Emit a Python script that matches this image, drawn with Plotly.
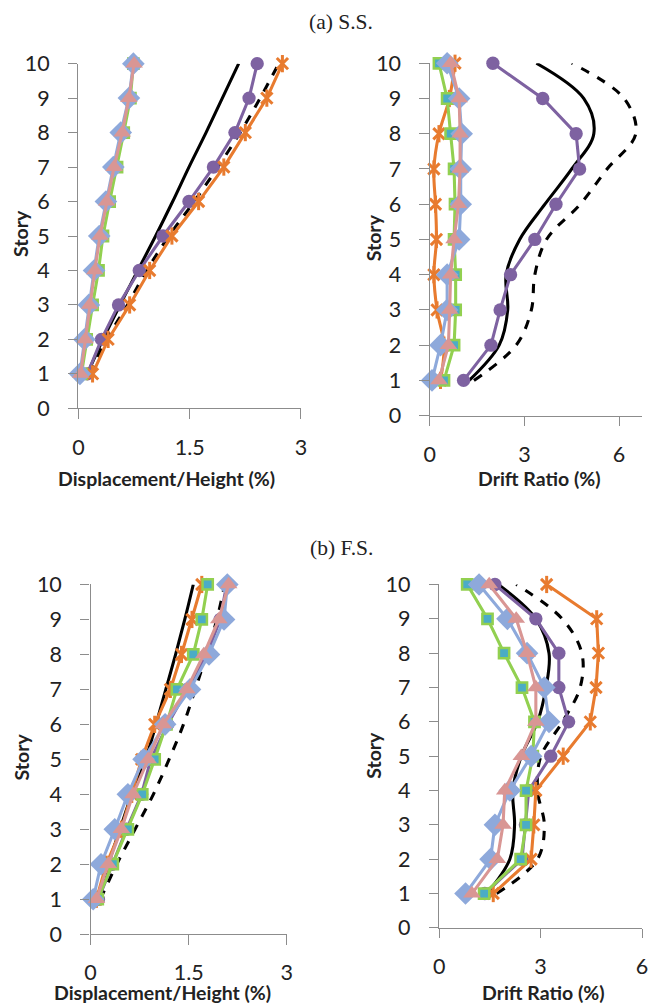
import plotly.graph_objects as go

W, H = 648, 1005
# the photographed page appears scaled by ~0.975 with a small offset;
# reference pixel positions are mapped through this to page pixels
SCALE = 0.975
OFFX, OFFY = 7, 12

stories = [1, 2, 3, 4, 5, 6, 7, 8, 9, 10]
x_ticks_disp = [0, 1.5, 3]
x_tick_text_disp = ["0", "1.5", "3"]
x_ticks_drift = [0, 3, 6]
x_tick_text_drift = ["0", "3", "6"]
y_ticks = [0, 1, 2, 3, 4, 5, 6, 7, 8, 9, 10]

# (a) S.S. - Displacement/Height (%)
ss_disp_solid = [0.12, 0.33, 0.56, 0.80, 1.04, 1.27, 1.49, 1.72, 1.94, 2.16]
ss_disp_dashed = [0.15, 0.38, 0.66, 0.92, 1.22, 1.56, 1.88, 2.18, 2.45, 2.70]
ss_disp_purple = [0.12, 0.31, 0.54, 0.82, 1.14, 1.49, 1.82, 2.11, 2.30, 2.41]
ss_disp_orange = [0.19, 0.40, 0.69, 0.96, 1.26, 1.62, 1.96, 2.25, 2.54, 2.75]
ss_disp_green = [0.04, 0.11, 0.19, 0.27, 0.33, 0.42, 0.52, 0.61, 0.70, 0.74]
ss_disp_blue = [0.02, 0.08, 0.14, 0.21, 0.28, 0.37, 0.47, 0.57, 0.68, 0.74]
ss_disp_pink = [0.03, 0.09, 0.15, 0.22, 0.29, 0.38, 0.48, 0.59, 0.68, 0.75]

# (a) S.S. - Drift Ratio (%)
ss_drift_solid = [1.25, 2.20, 2.47, 2.42, 2.85, 3.65, 4.50, 5.20, 4.88, 3.38]
ss_drift_dashed = [1.40, 2.74, 3.22, 3.33, 3.70, 4.77, 5.62, 6.53, 6.16, 4.50]
ss_drift_purple = [1.07, 1.94, 2.23, 2.56, 3.33, 4.00, 4.75, 4.64, 3.58, 2.00]
ss_drift_orange = [0.34, 0.45, 0.23, 0.13, 0.21, 0.18, 0.13, 0.29, 0.62, 0.80]
ss_drift_green = [0.45, 0.77, 0.82, 0.82, 0.77, 0.80, 0.77, 0.66, 0.55, 0.29]
ss_drift_blue = [0.07, 0.34, 0.55, 0.55, 0.93, 0.98, 0.98, 1.01, 0.93, 0.55]
ss_drift_pink = [0.29, 0.59, 0.63, 0.66, 0.77, 0.91, 0.96, 0.96, 0.93, 0.66]

# (b) F.S. - Displacement/Height (%)
fs_disp_solid = [0.11, 0.27, 0.45, 0.63, 0.84, 1.00, 1.15, 1.30, 1.44, 1.57]
fs_disp_dashed = [0.15, 0.40, 0.68, 0.96, 1.20, 1.42, 1.60, 1.77, 1.93, 2.05]
fs_disp_purple = [0.12, 0.33, 0.55, 0.78, 0.92, 1.18, 1.48, 1.78, 1.98, 2.08]
fs_disp_orange = [0.09, 0.24, 0.47, 0.63, 0.78, 0.98, 1.22, 1.39, 1.55, 1.70]
fs_disp_green = [0.11, 0.34, 0.57, 0.79, 0.98, 1.16, 1.32, 1.57, 1.70, 1.79]
fs_disp_blue = [0.04, 0.16, 0.37, 0.57, 0.81, 1.14, 1.52, 1.81, 2.04, 2.09]
fs_disp_pink = [0.09, 0.27, 0.47, 0.65, 0.88, 1.11, 1.47, 1.73, 1.96, 2.11]

# (b) F.S. - Drift Ratio (%)
fs_drift_solid = [1.41, 2.09, 2.23, 2.18, 2.43, 2.91, 3.16, 3.25, 2.86, 1.75]
fs_drift_dashed = [1.70, 2.91, 3.11, 2.91, 3.01, 3.65, 4.17, 4.22, 3.64, 2.28]
fs_drift_purple = [1.35, 2.45, 2.55, 2.65, 3.30, 3.83, 3.54, 3.54, 2.86, 1.65]
fs_drift_orange = [1.60, 2.72, 2.80, 2.86, 3.67, 4.47, 4.64, 4.71, 4.66, 3.18]
fs_drift_green = [1.33, 2.41, 2.57, 2.57, 2.77, 2.82, 2.45, 1.92, 1.43, 0.83]
fs_drift_blue = [0.78, 1.52, 1.65, 2.09, 2.72, 3.25, 3.11, 2.60, 2.02, 1.18]
fs_drift_pink = [0.97, 1.72, 1.89, 1.94, 2.43, 2.86, 2.86, 2.60, 2.28, 1.48]

C_PURPLE = "#7E62A1"
C_ORANGE = "#E87B2F"
C_GREEN = "#92D050"
C_TEAL = "#4BACC6"
C_BLUE = "#8EA9DB"
C_PINK = "#D99694"
C_AXIS = "#8C8C8C"
C_TEXT = "#222222"

K = 1 / SCALE

fig = go.Figure()


def add_panel(xa, ya, solid, dashed, purple, orange, green, blue, pink, orange_spline=False):
    common = dict(xaxis=xa, yaxis=ya, showlegend=False, cliponaxis=False)
    lw = 3 * K
    fig.add_trace(go.Scatter(x=solid, y=stories, mode="lines", line=dict(color="black", width=lw, shape="spline"), **common))
    fig.add_trace(go.Scatter(x=dashed, y=stories, mode="lines", line=dict(color="black", width=lw, dash="dash", shape="spline"), **common))
    fig.add_trace(go.Scatter(x=purple, y=stories, mode="lines+markers", line=dict(color=C_PURPLE, width=lw),
                             marker=dict(symbol="circle", size=13 * K, color=C_PURPLE), **common))
    fig.add_trace(go.Scatter(x=orange, y=stories, mode="lines+markers",
                             line=dict(color=C_ORANGE, width=lw, shape="spline" if orange_spline else "linear"),
                             marker=dict(symbol="x-thin-open", size=11 * K, color=C_ORANGE, line=dict(color=C_ORANGE, width=3)), **common))
    fig.add_trace(go.Scatter(x=orange, y=stories, mode="markers",
                             marker=dict(symbol="line-ns-open", size=12 * K, color=C_ORANGE, line=dict(color=C_ORANGE, width=3)), **common))
    fig.add_trace(go.Scatter(x=green, y=stories, mode="lines+markers", line=dict(color=C_GREEN, width=lw),
                             marker=dict(symbol="square", size=10 * K, color=C_TEAL, line=dict(color=C_GREEN, width=2.5)), **common))
    fig.add_trace(go.Scatter(x=blue, y=stories, mode="lines+markers", line=dict(color=C_BLUE, width=lw),
                             marker=dict(symbol="diamond", size=17 * K, color=C_BLUE), **common))
    fig.add_trace(go.Scatter(x=pink, y=stories, mode="lines+markers", line=dict(color=C_PINK, width=lw),
                             marker=dict(symbol="triangle-up", size=15 * K, color=C_PINK), **common))


add_panel("x", "y", ss_disp_solid, ss_disp_dashed, ss_disp_purple, ss_disp_orange, ss_disp_green, ss_disp_blue, ss_disp_pink)
add_panel("x2", "y2", ss_drift_solid, ss_drift_dashed, ss_drift_purple, ss_drift_orange, ss_drift_green, ss_drift_blue, ss_drift_pink, orange_spline=True)
add_panel("x3", "y3", fs_disp_solid, fs_disp_dashed, fs_disp_purple, fs_disp_orange, fs_disp_green, fs_disp_blue, fs_disp_pink)
add_panel("x4", "y4", fs_drift_solid, fs_drift_dashed, fs_drift_purple, fs_drift_orange, fs_drift_green, fs_drift_blue, fs_drift_pink)


def page_x(r):
    return (r - OFFX) / SCALE


def page_y(r):
    return (r - OFFY) / SCALE


def px_x(r):
    return min(max(page_x(r) / W, 0), 1)


def px_y(r):
    return min(max(1 - page_y(r) / H, 0), 1)


def unit_span(r0, r1, v0, v1, edge):
    # axis range end so that the axis line reaches the reference pixel `edge`
    per = (page_x(r1) - page_x(r0)) / (v1 - v0)
    end = min(page_x(edge), W)
    return (end - page_x(r0)) / per, end


TICKFONT = dict(family="Lato", size=21 * K, color=C_TEXT)


def xaxis(left, right_px, rng, tv, tt, anchor):
    return dict(domain=[px_x(left), min(right_px / W, 1)], range=rng, tickvals=tv, ticktext=tt, anchor=anchor,
                showline=True, linecolor=C_AXIS, linewidth=1.3, ticks="outside", ticklen=9 * K, tickcolor=C_AXIS,
                tickwidth=1.3, showgrid=False, zeroline=False, tickfont=TICKFONT, ticklabelstandoff=10,
                ticklabeloverflow="allow", fixedrange=True)


def yaxis(top, bottom, anchor):
    return dict(domain=[px_y(bottom), px_y(top)], range=[0, 10], tickvals=y_ticks, anchor=anchor,
                showline=True, linecolor=C_AXIS, linewidth=1.3, ticks="outside", ticklen=9 * K, tickcolor=C_AXIS,
                tickwidth=1.3, showgrid=False, zeroline=False, tickfont=TICKFONT, ticklabelstandoff=14, fixedrange=True)


annotations = []


def label(text, x, y, size, bold=True, angle=0, family="Lato"):
    annotations.append(dict(text=("<b>%s</b>" % text) if bold else text, x=px_x(x), y=px_y(y),
                            xref="paper", yref="paper", showarrow=False, textangle=angle,
                            xanchor="center", yanchor="middle",
                            font=dict(family=family, size=size * K, color=C_TEXT)))


label("(a) S.S.", 340, 21.5, 21, bold=False, family="Liberation Serif")
label("(b) F.S.", 340, 547, 21, bold=False, family="Liberation Serif")
label("Displacement/Height (%)", 166, 478, 19)
label("Drift Ratio (%)", 537, 478, 19)
label("Displacement/Height (%)", 162, 993, 19)
label("Drift Ratio (%)", 541, 993, 19)
label("Story", 22, 233, 19, angle=-90)
label("Story", 372, 237, 19, angle=-90)
label("Story", 22, 757, 19, angle=-90)
label("Story", 372, 755, 19, angle=-90)

# axis extents (reference pixels): left edge, pixel of a known value
r2_end, r2_px = unit_span(428, 616, 0, 6, 647)

fig.update_layout(
    width=W, height=H, margin=dict(l=0, r=0, t=0, b=0),
    paper_bgcolor="white", plot_bgcolor="white",
    xaxis=xaxis(79, page_x(300), [0, 3], x_ticks_disp, x_tick_text_disp, "y"),
    yaxis=yaxis(62.7, 407.7, "x"),
    xaxis2=xaxis(428, r2_px, [0, r2_end], x_ticks_drift, x_tick_text_drift, "y2"),
    yaxis2=yaxis(62.3, 415, "x2"),
    xaxis3=xaxis(91, page_x(286), [0, 3], x_ticks_disp, x_tick_text_disp, "y3"),
    yaxis3=yaxis(584, 934, "x3"),
    xaxis4=xaxis(437.3, W, [0, 6.0], x_ticks_drift, x_tick_text_drift, "y4"),
    yaxis4=yaxis(584, 927.7, "x4"),
    annotations=annotations,
)

fig.write_html("out.html")
